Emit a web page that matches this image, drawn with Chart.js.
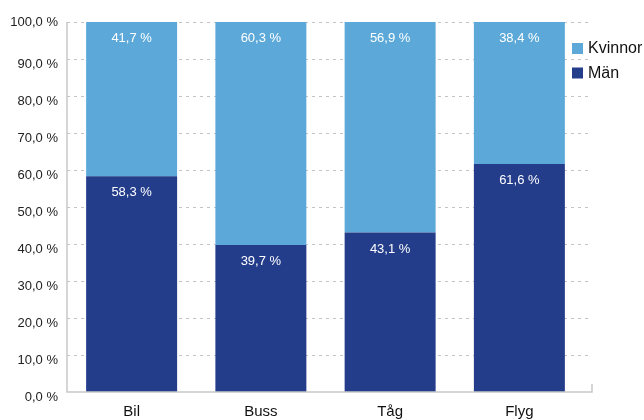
<!DOCTYPE html>
<html>
<head>
<meta charset="utf-8">
<script src="https://cdn.jsdelivr.net/npm/chart.js@4/dist/chart.umd.min.js"></script>
<style>
  html, body { margin: 0; padding: 0; background: #fff; }
  #wrap { width: 644px; height: 420px; }
</style>
</head>
<body>
<div id="wrap"><canvas id="c" width="644" height="420"></canvas></div>
<script>
// Andel resenärer per färdmedel, fördelat på kön (procent)
const categories = ['Bil', 'Buss', 'Tåg', 'Flyg'];
const man = [58.3, 39.7, 43.1, 61.6];
const kvinnor = [41.7, 60.3, 56.9, 38.4];
const seriesNames = ['Män', 'Kvinnor'];
const yTicks = [0, 10, 20, 30, 40, 50, 60, 70, 80, 90, 100];

const FONT = '"Liberation Sans", Arial, Helvetica, sans-serif';
const LIGHT = '#5CA9D9';
const DARK = '#243D8B';

const fmt = v => v.toFixed(1).replace('.', ',') + ' %';

// Stödlinjer, axellinjer och y-axelns etiketter
const frame = {
  id: 'frame',
  beforeDatasetsDraw(chart) {
    const ctx = chart.ctx;
    const a = chart.chartArea;
    const y = chart.scales.y;
    ctx.save();
    ctx.strokeStyle = '#c4c4c4';
    ctx.lineWidth = 1;
    ctx.setLineDash([3, 4]);
    yTicks.forEach(v => {
      if (v === 0) return;
      const py = Math.round(y.getPixelForValue(v)) + 0.5;
      ctx.beginPath();
      ctx.moveTo(a.left, py);
      ctx.lineTo(a.right + 5, py);
      ctx.stroke();
    });
    ctx.setLineDash([]);

    ctx.font = '13px ' + FONT;
    ctx.fillStyle = '#222';
    ctx.textAlign = 'right';
    ctx.textBaseline = 'middle';
    yTicks.forEach(v => {
      const py = y.getPixelForValue(v) + (v === 100 ? 0 : 5.5);
      ctx.fillText(fmt(v), a.left - 9, py);
    });
    ctx.restore();
  },
  afterDraw(chart) {
    const ctx = chart.ctx;
    const a = chart.chartArea;
    ctx.save();
    ctx.strokeStyle = '#c8c8c8';
    ctx.lineWidth = 1.5;
    ctx.beginPath();
    ctx.moveTo(a.left, a.top);
    ctx.lineTo(a.left, a.bottom);
    ctx.lineTo(a.right + 8, a.bottom);
    ctx.lineTo(a.right + 8, a.bottom - 8);
    ctx.stroke();

    // förklaring
    const items = [
      { text: seriesNames[1], color: LIGHT },
      { text: seriesNames[0], color: DARK }
    ];
    ctx.font = '16px ' + FONT;
    ctx.textBaseline = 'middle';
    ctx.textAlign = 'left';
    items.forEach((it, k) => {
      const py = 48.5 + k * 24.5;
      ctx.fillStyle = it.color;
      ctx.fillRect(572, py - 5.5, 11, 11);
      ctx.fillStyle = '#111';
      ctx.fillText(it.text, 588, py + 0.5);
    });
    ctx.restore();
  }
};

// Värdeetiketter inne i staplarna
const valueLabels = {
  id: 'valueLabels',
  afterDatasetsDraw(chart) {
    const ctx = chart.ctx;
    ctx.save();
    ctx.font = '13px ' + FONT;
    ctx.fillStyle = '#ffffff';
    ctx.textAlign = 'center';
    ctx.textBaseline = 'middle';
    chart.data.datasets.forEach((ds, di) => {
      chart.getDatasetMeta(di).data.forEach((bar, i) => {
        ctx.fillText(fmt(ds.data[i]), bar.x, bar.y + 16.5);
      });
    });
    ctx.restore();
  }
};

new Chart(document.getElementById('c'), {
  type: 'bar',
  data: {
    labels: categories,
    datasets: [
      { label: seriesNames[0], data: man, backgroundColor: DARK, borderWidth: 0 },
      { label: seriesNames[1], data: kvinnor, backgroundColor: LIGHT, borderWidth: 0 }
    ]
  },
  options: {
    responsive: false,
    animation: false,
    devicePixelRatio: 1,
    layout: { padding: { left: 0, right: 60, top: 22, bottom: 0 } },
    datasets: { bar: { barPercentage: 0.704, categoryPercentage: 1.0 } },
    plugins: {
      legend: { display: false },
      tooltip: { enabled: false }
    },
    scales: {
      x: {
        stacked: true,
        grid: { display: false, drawTicks: false },
        border: { display: false },
        ticks: { color: '#111', font: { family: FONT, size: 15 }, padding: 11 },
        afterFit(s) { s.height = 28; }
      },
      y: {
        stacked: true,
        min: 0,
        max: 100,
        ticks: { display: false, stepSize: 10 },
        grid: { display: false, drawTicks: false },
        border: { display: false },
        afterFit(s) { s.width = 67; }
      }
    }
  },
  plugins: [frame, valueLabels]
});
</script>
</body>
</html>
